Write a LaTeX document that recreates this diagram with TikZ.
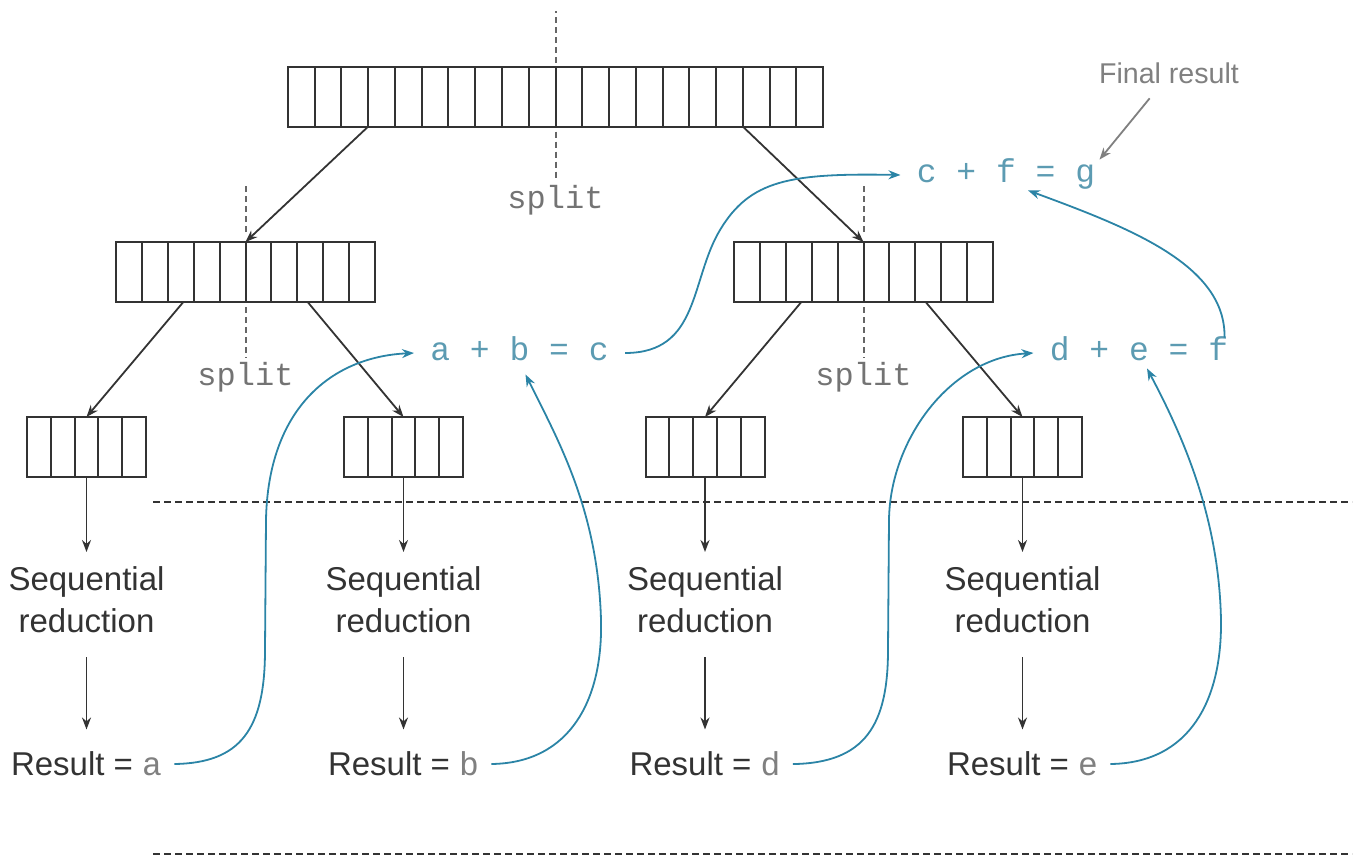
\documentclass[tikz,border=0pt]{standalone}
\usepackage{fontspec}
\setmainfont{Liberation Sans}
\setmonofont{Liberation Mono}
\usetikzlibrary{arrows.meta, calc}
\definecolor{linegray}{HTML}{333333}
\definecolor{flowblue}{HTML}{2B84A6}
\definecolor{eqblue}{HTML}{5C9BB2}
\tikzset{
  array box/.style={
    draw=linegray,
    line width=1pt,
    minimum height=30pt,
    inner sep=0pt,
    outer sep=0pt
  },
  cell line/.style={
    linegray,
    line width=1pt
  },
  split line/.style={
    draw=gray!80!black,
    line width=1pt,
    dash pattern=on 3pt off 2pt
  },
  split label/.style={
    font=\ttfamily\fontsize{16}{19}\selectfont,
    text=gray!90!black,
    inner sep=2pt
  },
  tree arrow/.style={
    -{Stealth[length=6pt, width=4.5pt]},
    draw=linegray,
    line width=0.9pt
  },
  merge arrow/.style={
    -{Stealth[length=6pt, width=4.5pt]},
    draw=flowblue,
    line width=0.9pt
  },
  phase line/.style={
    draw=linegray,
    line width=1pt,
    dash pattern=on 3.5pt off 2pt
  },
  seq text/.style={
    font=\fontsize{16.5}{21}\selectfont,
    text=linegray,
    align=center,
    inner xsep=0pt,
    inner ysep=7pt,
    anchor=north
  },
  result text/.style={
    font=\fontsize{16.5}{20}\selectfont,
    text=linegray,
    inner xsep=6pt,
    inner ysep=3pt,
    anchor=base
  },
  eq text/.style={
    font=\ttfamily\fontsize{16.5}{20}\selectfont,
    text=eqblue,
    inner xsep=8pt,
    inner ysep=1pt,
    text height=10pt,
    text depth=3pt
  },
  note text/.style={
    font=\fontsize{14.3}{17}\selectfont,
    text=gray
  }
}
\newcommand{\resvar}[1]{Result = {\ttfamily\color{gray}#1}}

\begin{document}
\begin{tikzpicture}[x=0.5pt, y=-0.5pt]
    \useasboundingbox (0,0) rectangle (1356,857);

    % Arrays: full input, two halves, four parts
    \node[array box, minimum width=267.5pt] (full) at (555.5,96.5) {};
    \node[array box, minimum width=129.5pt] (halfL) at (245.5,272) {};
    \node[array box, minimum width=129.5pt] (halfR) at (863.5,272) {};
    \foreach \nm/\x in {partA/86.5, partB/403.5, partC/705, partD/1022.5} {
      \node[array box, minimum width=59.5pt] (\nm) at (\x,447) {};
    }

    % Cells
    \foreach \arr/\n in {full/20, halfL/10, halfR/10, partA/5, partB/5, partC/5, partD/5} {
      \pgfmathtruncatemacro{\last}{\n-1}
      \foreach \i in {1,...,\last}
        \draw[cell line] ($(\arr.south west)!\i/\n!(\arr.south east)$) -- ($(\arr.north west)!\i/\n!(\arr.north east)$);
    }

    % Split marks
    \node[split label] (splitTop) at (555.5,200) {split};
    \node[split label] (splitL) at (245.5,377) {split};
    \node[split label] (splitR) at (863.5,377) {split};
    \draw[split line] ([yshift=2pt]full.north) -- ++(0,-52);
    \draw[split line] ([yshift=-2.5pt]full.south) -- (splitTop.north);
    \foreach \arr/\lab in {halfL/splitL, halfR/splitR} {
      \draw[split line] ([yshift=5pt]\arr.north) -- ++(0,-47);
      \draw[split line] ([yshift=-2.5pt]\arr.south) -- (\lab.north);
    }

    % Splitting arrows
    \draw[tree arrow] ($(full.south west)!0.15!(full.south east)$) -- (halfL.north);
    \draw[tree arrow] ($(full.south west)!0.85!(full.south east)$) -- (halfR.north);
    \draw[tree arrow] ($(halfL.south west)!0.26!(halfL.south east)$) -- (partA.north);
    \draw[tree arrow] ($(halfL.south west)!0.74!(halfL.south east)$) -- (partB.north);
    \draw[tree arrow] ($(halfR.south west)!0.26!(halfR.south east)$) -- (partC.north);
    \draw[tree arrow] ($(halfR.south west)!0.74!(halfR.south east)$) -- (partD.north);

    % Phase separators
    \draw[phase line] (153,502) -- (1352,502);
    \draw[phase line] (153,854) -- (1352,854);

    % Sequential reduction of each part
    \foreach \p/\x/\v in {A/86.5/a, B/403.5/b, C/705/d, D/1022.5/e} {
      \node[seq text] (seq\p) at (\x,552) {Sequential\\reduction};
      \node[result text] (res\p) at (\x,775.8) {\resvar{\v}};
      \draw[tree arrow] (part\p.south) -- (seq\p.north);
      \draw[tree arrow, shorten <=5pt, shorten >=8pt] (seq\p.south) -- (res\p.north);
    }

    % Combining
    \node[eq text] (eqAB) at (519.5,353) {a + b = c};
    \node[eq text] (eqDE) at (1139,353) {d + e = f};
    \node[eq text] (eqCF) at (1006,175) {c + f = g};
    \node[note text] (final) at (1169,73) {Final result};

    \draw[merge arrow] (resA.east) .. controls (240,763) and (265,730) .. (265,650)
      -- (266,520) .. controls (268,410) and (330,357) .. (eqAB.west);
    \draw[merge arrow] (resB.east) .. controls (570,763) and (603,700) .. (601,620)
      .. controls (598,510) and (558,440) .. ([xshift=3pt, yshift=-3pt]eqAB.south);
    \draw[merge arrow] (resC.east) .. controls (865,763) and (888,725) .. (888,650)
      -- (889,520) .. controls (890,440) and (950,358) .. (eqDE.west);
    \draw[merge arrow] (resD.east) .. controls (1190,763) and (1222,700) .. (1221,620)
      .. controls (1219,520) and (1185,440) .. ([xshift=4pt]eqDE.south);
    \draw[merge arrow] (eqAB.east) .. controls (700,353) and (690,280) .. (720,230)
      .. controls (750,180) and (790,173) .. (eqCF.west);
    \draw[merge arrow] ([xshift=-10pt]eqDE.north east) .. controls (1226,265) and (1130,228) .. ([xshift=11pt]eqCF.south);

    \draw[tree arrow, draw=gray, shorten <=5pt] ([xshift=-6.5pt]final.south) -- ([xshift=-6pt]eqCF.north east);

  \end{tikzpicture}
\end{document}
